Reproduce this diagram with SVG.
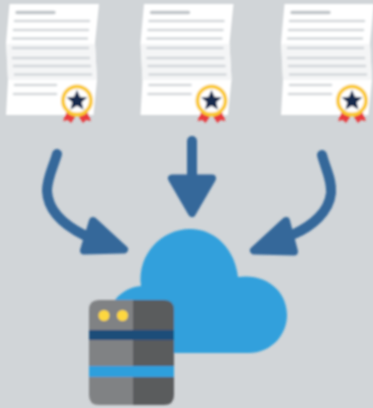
<svg xmlns="http://www.w3.org/2000/svg" width="373" height="408" viewBox="0 0 373 408">
<style>
.paper{fill:#fff}
.rule{stroke:#d3d7da;stroke-width:2.6;fill:none;stroke-linecap:round}
.head{stroke:#bfc4c8;stroke-width:3.400;fill:none;stroke-linecap:round}
.shade{fill:#f4f5f6}
.shaft{fill:none;stroke:#34679a;stroke-width:10;stroke-linecap:round}
.tip{fill:#34679a;stroke:#34679a;stroke-width:8;stroke-linejoin:round}
</style>
<defs>
<filter id="soft" x="-5%" y="-5%" width="110%" height="110%"><feGaussianBlur stdDeviation="0.8"/></filter>
<g id="cert">
<path class="paper" d="M9.500 4H99L95 43 97 80 93.500 115H6L8 80 6 43Z"/>
<path class="shade" d="M6.500 44H95L97 80H8Z"/>
<path class="head" d="M17 12.500H54"/>
<path class="rule" d="M15 21H89M14 30H88M13 38.500H87M13 48H88M13 58H89M14 66H90M15 74.500H91M15 85H56M14 94H56"/>
<path fill="#e93a3c" d="M67 111l7 3 1 3-4 6-3-3-5 1ZM87 111l-7 3-1 3 4 6 3-3 5 1Z"/>
<circle cx="77" cy="100.500" r="16" fill="#f9c933"/>
<circle cx="77" cy="100.500" r="12" fill="#fff"/>
<path fill="#17294d" d="M77 90l3 6.700 7.300.8-5.500 4.800 1.600 7.200-6.400-3.700-6.400 3.700 1.600-7.200-5.500-4.800 7.300-.8Z"/>
</g>
</defs>
<rect width="373" height="408" fill="#d1d5d8"/>
<g filter="url(#soft)">
<g id="certificate-1"><use href="#cert"/></g>
<g id="certificate-2"><use href="#cert" x="134.500"/></g>
<g id="certificate-3"><use href="#cert" x="275"/></g>
<g id="connectors">
<path class="shaft" d="M57 154C53 168 47 178 47 191C48 212 66 226 84 235"/>
<path class="tip" d="M93 221L124 249.500 84 250.500Z"/>
<path class="shaft" d="M192 141V182"/>
<path class="tip" d="M172 178.500H212L192 213Z"/>
<path class="shaft" d="M322 155C326 170 332 180 331 193C329 212 312 226 294 234"/>
<path class="tip" d="M286 221L254 250.500 294 251.500Z"/>
</g>
<g id="cloud">
<path fill="#31a0dc" d="M115 300C122 291 131 287 141 286C137 254 162 229 190 229C216 229 235 250 238 277C266 273 287 291 287 315C287 336 270 353 249 353H150V300Z"/>
</g>
<g id="server">
<path fill="#808284" d="M133 300H99Q89 300 89 310V395Q89 405 99 405H133Z"/>
<path fill="#5a5b5d" d="M133 300H164Q174 300 174 310V395Q174 405 164 405H133Z"/>
<rect x="89" y="330" width="85" height="10" fill="#1d4e79"/>
<rect x="89" y="366" width="85" height="11" fill="#2f9fdc"/>
<circle cx="104" cy="315.500" r="5.500" fill="#fdd741"/>
<circle cx="122.500" cy="315.500" r="5.500" fill="#fdd741"/>
</g>
</g>
</svg>
